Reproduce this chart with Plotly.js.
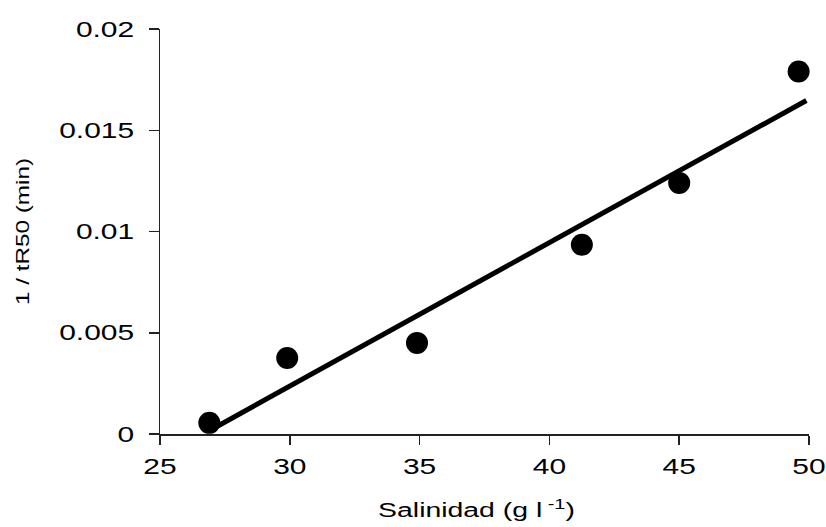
<!DOCTYPE html>
<html>
<head>
<meta charset="utf-8">
<script src="https://cdn.plot.ly/plotly-3.0.1.min.js"></script>
<style>
  html, body { margin: 0; padding: 0; background: #ffffff; }
  #chart { width: 826px; height: 527px; }
</style>
</head>
<body>
<div id="chart"></div>
<script>
// Salinity (g/l) against the inverse of the time to 50% response, 1/tR50
const salinity = [26.9, 29.9, 34.9, 41.25, 45.0, 49.6];
const inverseTR50 = [0.00055, 0.00375, 0.0045, 0.00935, 0.0124, 0.0179];

// Linear trend line, end points
const trendX = [26.95, 49.9];
const trendY = [0.0002, 0.01647];

const xTicks = [25, 30, 35, 40, 45, 50];
const yTicks = [0, 0.005, 0.01, 0.015, 0.02];
const yTickText = ['0', '0.005', '0.01', '0.015', '0.02'];

const font = 'Liberation Sans, Arial, sans-serif';

const traces = [
  {
    x: trendX,
    y: trendY,
    mode: 'lines',
    line: { color: '#000000', width: 5 },
    hoverinfo: 'skip',
    showlegend: false
  },
  {
    x: salinity,
    y: inverseTR50,
    mode: 'markers',
    marker: { color: '#000000', size: 22 },
    cliponaxis: false,
    showlegend: false
  }
];

const layout = {
  width: 826,
  height: 527,
  paper_bgcolor: '#ffffff',
  plot_bgcolor: '#ffffff',
  margin: { l: 160, r: 17, t: 29, b: 93 },
  font: { family: font, color: '#000000' },
  showlegend: false,
  xaxis: {
    range: [25, 50],
    tickvals: xTicks,
    ticktext: xTicks.map(String),
    ticks: 'outside',
    ticklen: 9,
    tickwidth: 1.5,
    tickcolor: '#222222',
    showline: true,
    linecolor: '#222222',
    linewidth: 1.5,
    showgrid: false,
    zeroline: false,
    ticklabelstandoff: 3,
    tickfont: { size: 22, family: font, color: '#000000' },
    automargin: false,
    title: {
      text: 'Salinidad (g l<sup> -1</sup>)',
      font: { size: 20, family: font, color: '#000000' },
      standoff: 25
    }
  },
  yaxis: {
    range: [0, 0.02],
    tickvals: yTicks,
    ticktext: yTickText,
    ticks: 'outside',
    ticklen: 10,
    tickwidth: 1.5,
    tickcolor: '#222222',
    showline: true,
    linecolor: '#222222',
    linewidth: 1.5,
    showgrid: false,
    zeroline: false,
    ticklabelstandoff: 10,
    tickfont: { size: 22, family: font, color: '#000000' },
    automargin: false,
    title: {
      text: '1 / tR50 (min)',
      font: { size: 18, family: font, color: '#000000' },
      standoff: 44
    }
  }
};

// Widen the lettering along its baseline, keeping each label's anchor point fixed;
// shiftX nudges the label along the page afterwards
function widenText(selector, factor, shiftX) {
  document.querySelectorAll(selector).forEach(function (t) {
    const x = parseFloat(t.getAttribute('x')) || 0;
    const y = parseFloat(t.getAttribute('y')) || 0;
    const base = t.getAttribute('transform') || '';
    const shift = shiftX ? 'translate(' + shiftX + ',0) ' : '';
    t.setAttribute('transform',
      shift + base + ' translate(' + x + ',' + y + ') scale(' + factor + ',1) translate(' + (-x) + ',' + (-y) + ')');
  });
}

Plotly.newPlot('chart', traces, layout, { displayModeBar: false, staticPlot: true }).then(function () {
  widenText('#chart .xtick text', 1.36);
  widenText('#chart .ytick text', 1.36);
  widenText('#chart .g-xtitle text', 1.42, -8);
  widenText('#chart .g-ytitle text', 1.35);
});
</script>
</body>
</html>
